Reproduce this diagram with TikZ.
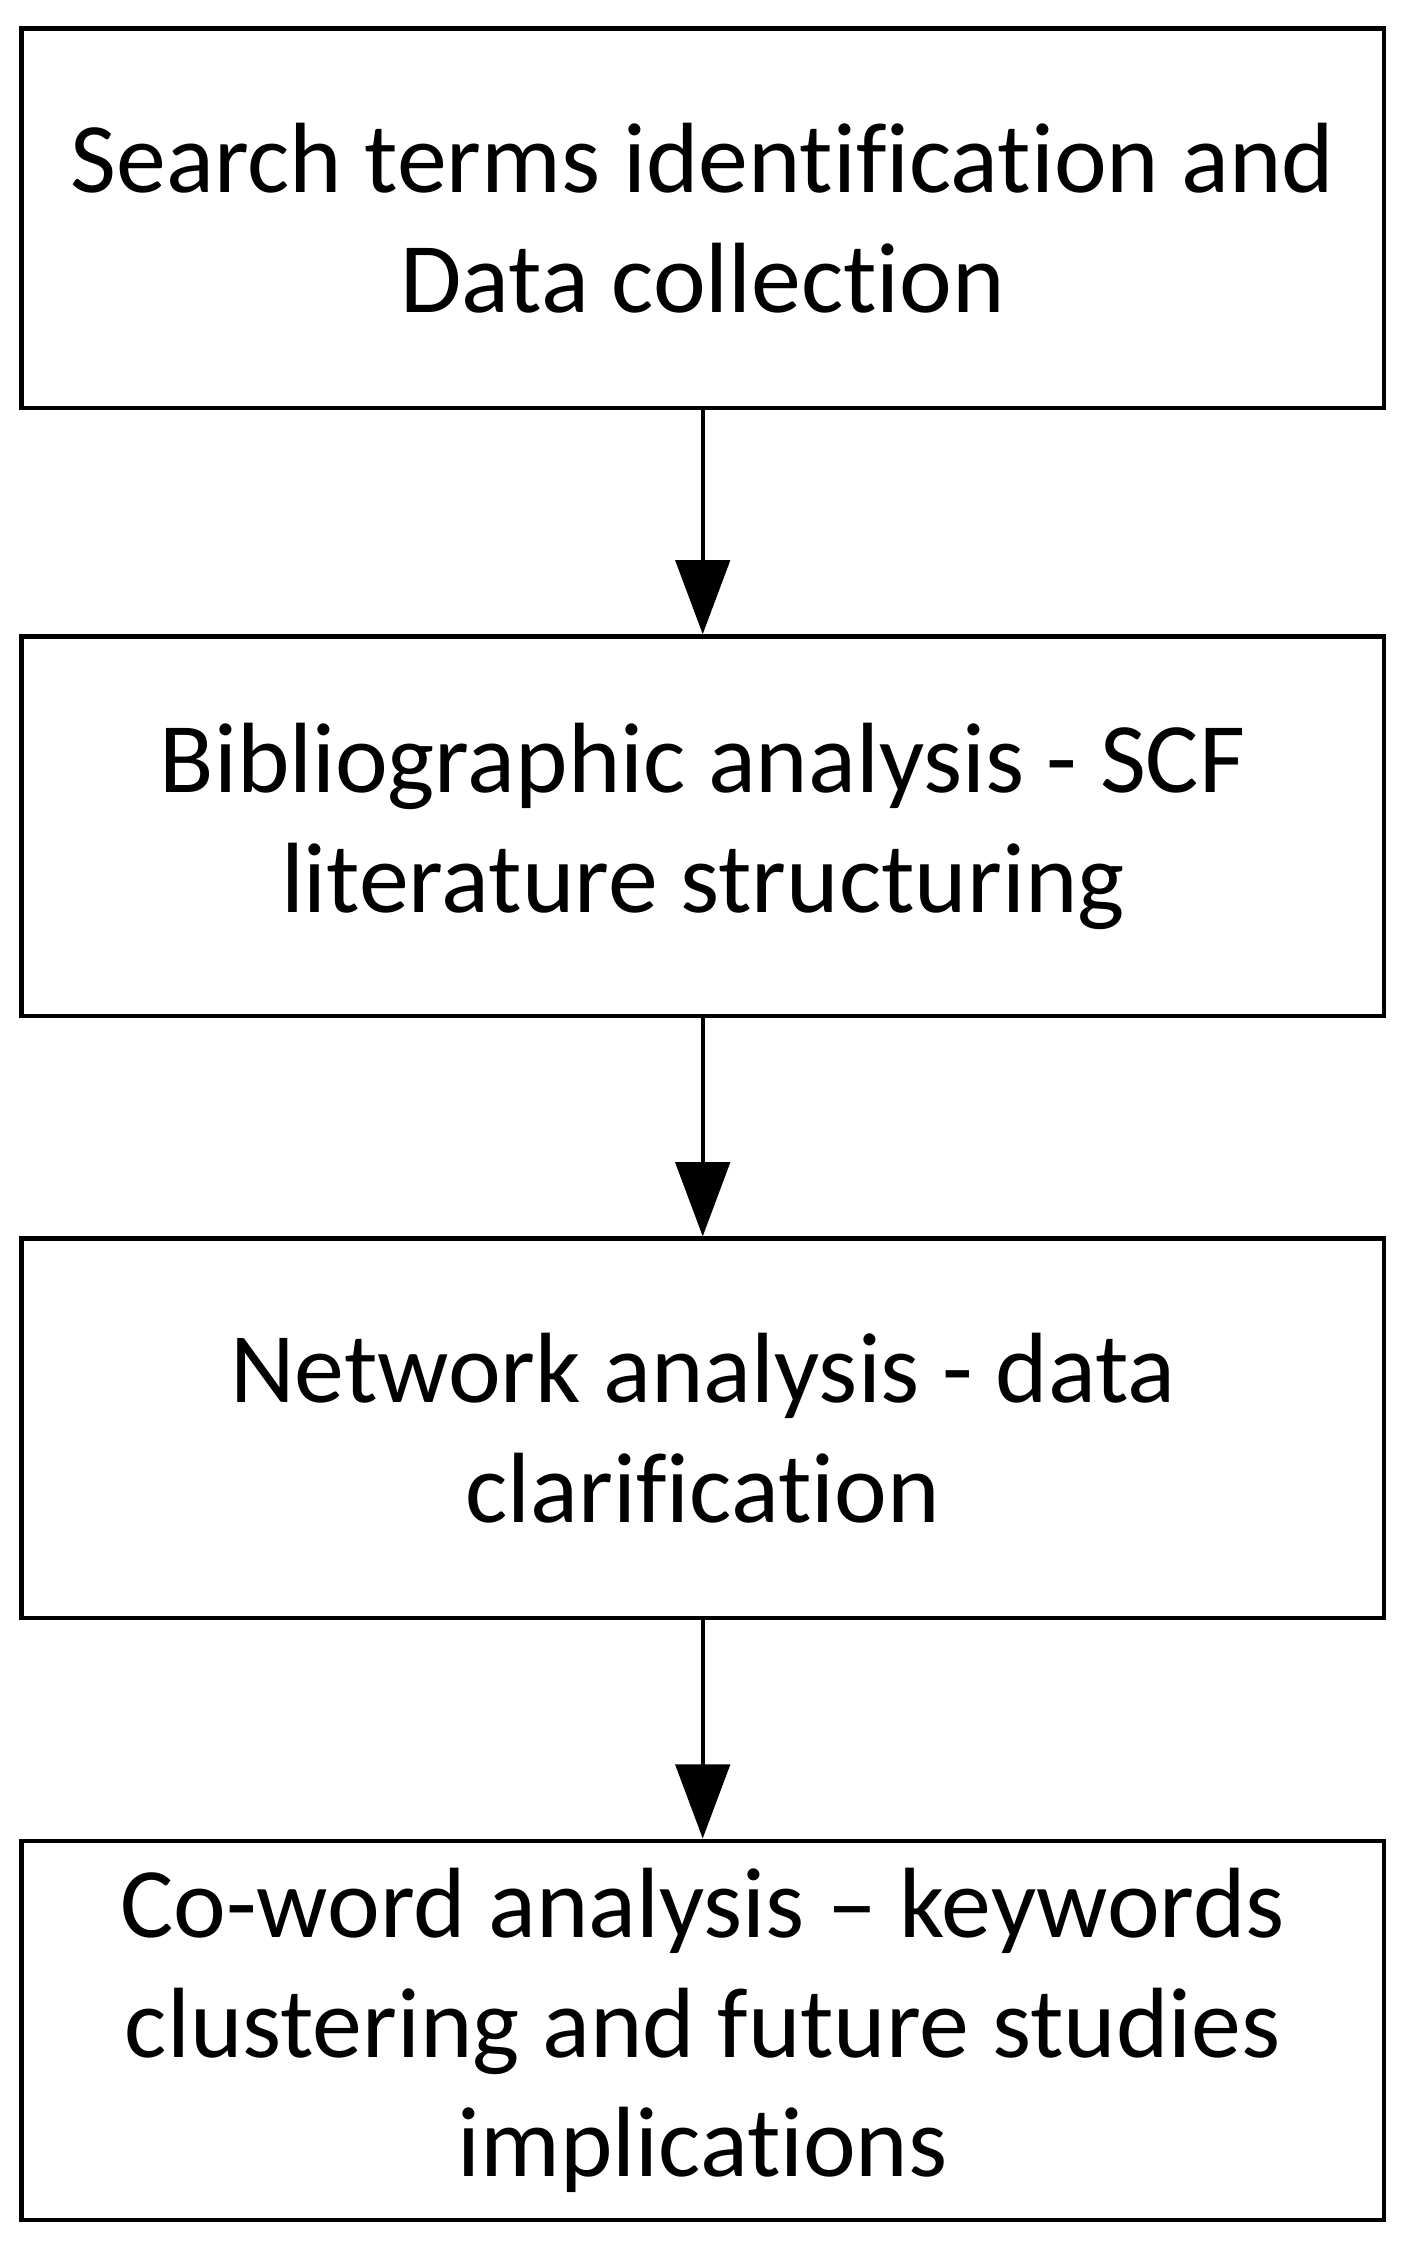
\documentclass[tikz,border=0pt]{standalone}
\usepackage{fontspec}
\setmainfont[Ligatures=NoCommon]{Carlito}
\usetikzlibrary{arrows.meta}
\begin{document}
\begin{tikzpicture}[x=1pt,y=-1pt,
  box/.style={draw,line width=3pt,minimum width=955pt,minimum height=266pt,align=center,inner sep=0pt,
    font=\fontsize{70}{84}\selectfont},
  arr/.style={line width=3pt,-{Triangle[length=52pt,width=38pt]}}]
\useasboundingbox (0,0) rectangle (985,1572);
\node[box] (a) at (492.5,153) {Search terms identification and\\Data collection};
\node[box] (b) at (492.5,579) {Bibliographic analysis - SCF\\literature structuring};
\node[box] (c) at (492.5,1001) {Network analysis - data\\clarification};
\node[box] (d) at (492.5,1423) {Co-word analysis -- keywords\\clustering and future studies\\implications};
\draw[arr] (a) -- (b);
\draw[arr] (b) -- (c);
\draw[arr] (c) -- (d);
\end{tikzpicture}
\end{document}
